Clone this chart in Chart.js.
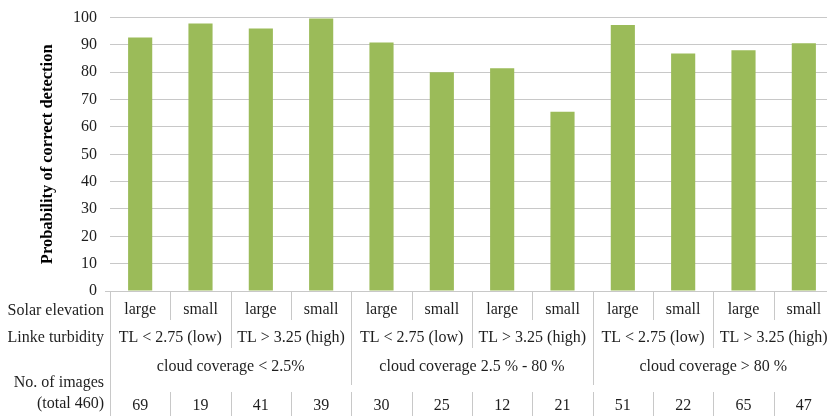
<!DOCTYPE html>
<html lang="en">
<head>
    <meta charset="UTF-8" />
    <title>Probability of correct detection</title>
    <script src="https://cdn.jsdelivr.net/npm/chart.js@4.4.0/dist/chart.umd.min.js"></script>
    <style>
        html, body { margin: 0; padding: 0; background: #fff; overflow: hidden; }
        .wrap { width: 827px; height: 416px; overflow: hidden; }
    </style>
</head>
<body>
    <div class="wrap">
        <canvas id="detectionChart" width="836" height="416"></canvas>
    </div>

    <script>
        // Datos
        const elevation = ['large', 'small', 'large', 'small', 'large', 'small',
                           'large', 'small', 'large', 'small', 'large', 'small'];
        const turbidity = ['TL < 2.75 (low)', 'TL > 3.25 (high)',
                           'TL < 2.75 (low)', 'TL > 3.25 (high)',
                           'TL < 2.75 (low)', 'TL > 3.25 (high)'];
        const cloudCoverage = ['cloud coverage < 2.5%', 'cloud coverage 2.5 % - 80 %', 'cloud coverage > 80 %'];
        const imageCounts = [69, 19, 41, 39, 30, 25, 12, 21, 51, 22, 65, 47];
        const probability = [92.7, 97.8, 96.0, 99.7, 90.9, 80.0, 81.5, 65.6, 97.3, 86.9, 88.1, 90.6];
        const rowLabels = ['Solar elevation', 'Linke turbidity'];
        const countLabel = ['No. of images', '(total 460)'];

        const serif = '"Liberation Serif", "Times New Roman", serif';
        const lineColor = '#c8c8c8';
        const textColor = '#1e1e1e';

        // Tabla de categorias debajo del eje
        const tablePlugin = {
            id: 'categoryTable',
            afterDraw(chart) {
                const ctx = chart.ctx;
                const x = chart.scales.x;
                const area = chart.chartArea;
                const n = elevation.length;
                const w = (area.right - area.left) / n;
                const edge = i => area.left + i * w;
                const y0 = area.bottom;

                ctx.save();
                ctx.strokeStyle = lineColor;
                ctx.lineWidth = 1;
                const vline = (px, a, b) => {
                    ctx.beginPath();
                    ctx.moveTo(Math.round(px) + 0.5, a);
                    ctx.lineTo(Math.round(px) + 0.5, b);
                    ctx.stroke();
                };
                for (let i = 0; i <= n; i++) {
                    let end = 320;
                    if (i % 2 === 0) end = 348;
                    if (i % 4 === 0) end = 385;
                    if (i === 0) end = 416;
                    vline(edge(i), y0, end);
                    if (i > 0) vline(edge(i), 392, 416);
                }

                ctx.fillStyle = textColor;
                ctx.font = '16px ' + serif;
                ctx.textBaseline = 'middle';
                ctx.textAlign = 'center';

                elevation.forEach((t, i) => ctx.fillText(t, x.getPixelForValue(i), 310));
                turbidity.forEach((t, i) => ctx.fillText(t, edge(i * 2 + 1), 338));
                cloudCoverage.forEach((t, i) => ctx.fillText(t, edge(i * 4 + 2), 367));
                imageCounts.forEach((t, i) => ctx.fillText(String(t), x.getPixelForValue(i), 406));

                ctx.textAlign = 'right';
                ctx.fillText(rowLabels[0], 104, 311);
                ctx.fillText(rowLabels[1], 104, 338);
                ctx.fillText(countLabel[0], 104, 383);
                ctx.fillText(countLabel[1], 104, 404);
                ctx.restore();
            }
        };

        new Chart(document.getElementById('detectionChart'), {
            type: 'bar',
            data: {
                labels: elevation,
                datasets: [{
                    label: 'Probability of correct detection',
                    data: probability,
                    backgroundColor: '#9bbb59',
                    borderWidth: 0,
                    barPercentage: 0.4,
                    categoryPercentage: 1
                }]
            },
            options: {
                responsive: false,
                animation: false,
                devicePixelRatio: 1,
                layout: { padding: { left: 0, top: 17, right: 2, bottom: 125 } },
                plugins: {
                    legend: { display: false },
                    tooltip: { enabled: false }
                },
                scales: {
                    x: {
                        ticks: { display: false },
                        grid: { display: false, drawTicks: false },
                        border: { display: false }
                    },
                    y: {
                        min: 0,
                        max: 100,
                        afterFit(scale) { scale.width = 110; },
                        ticks: {
                            stepSize: 10,
                            padding: 8,
                            color: textColor,
                            font: { family: serif, size: 16 }
                        },
                        grid: {
                            color: lineColor,
                            lineWidth: 1,
                            tickLength: 5,
                            tickColor: ctx => ctx.index === 0 ? lineColor : 'rgba(0,0,0,0)'
                        },
                        border: { display: false },
                        title: {
                            display: true,
                            text: 'Probability of correct detection',
                            color: '#000',
                            padding: { top: 38, bottom: 0 },
                            font: { family: serif, size: 16.5, weight: 'bold' }
                        }
                    }
                }
            },
            plugins: [tablePlugin]
        });
    </script>
</body>
</html>
